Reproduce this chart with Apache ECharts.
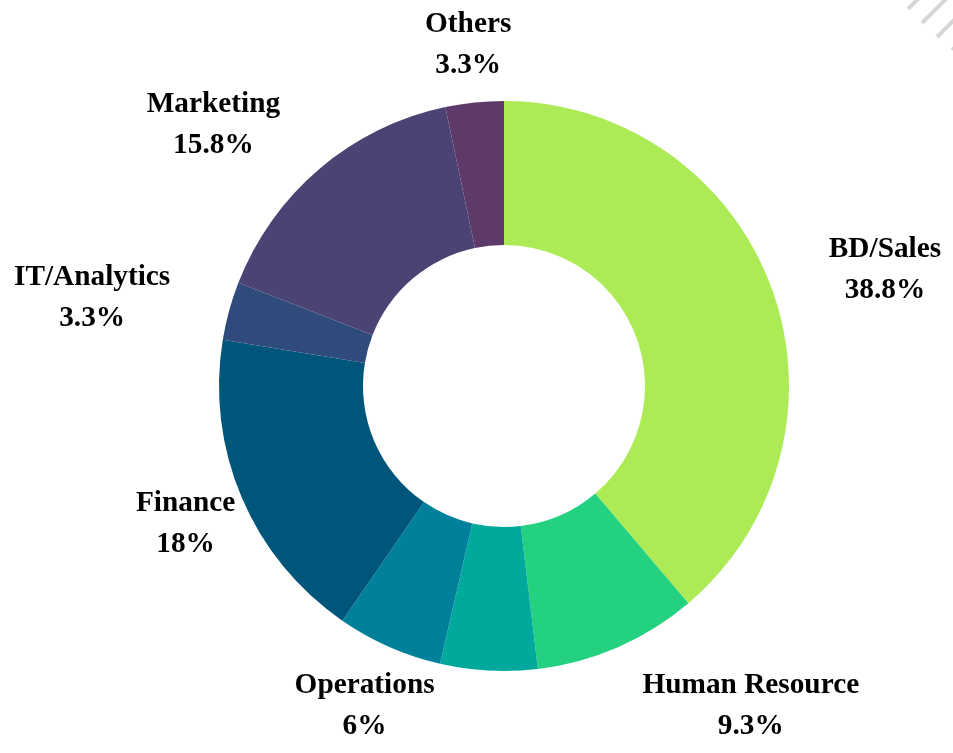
<!DOCTYPE html>
<html>
<head>
<meta charset="utf-8">
<title>Department split</title>
<script src="https://cdn.jsdelivr.net/npm/echarts@6/dist/echarts.min.js"></script>
<style>
  html, body { margin: 0; padding: 0; background: #fff; }
  #chart { width: 953px; height: 753px; }
</style>
</head>
<body>
<div id="chart"></div>
<script>
// slice data, clockwise from 12 o'clock (one small slice carries no label)
const departments = ['BD/Sales', 'Human Resource', '', 'Operations', 'Finance', 'IT/Analytics', 'Marketing', 'Others']
const shares = [38.8, 9.3, 5.5, 6, 18, 3.3, 15.8, 3.3]

const sliceColors = ['#adeb56', '#23d180', '#00a99b', '#00809a', '#00557a', '#2f4b7c', '#4b4373', '#5e3a6a']
// which side of the anchor point the label block hangs on
const labelAligns = ['left', 'left', 'center', 'center', 'center', 'right', 'right', 'center']

// labels sit on a ring this far outside the donut
const labelGap = 61

const chart = echarts.init(document.getElementById('chart'))

// decorative stripes in the top right corner
const stripes = [
  [[908, 9], [920, -3]],
  [[922, 23], [950, -5]],
  [[937, 37], [980, -6]],
  [[952, 50], [1000, 2]],
]

chart.setOption({
  animation: false,
  graphic: stripes.map(([a, b]) => ({
    type: 'line',
    silent: true,
    shape: { x1: a[0], y1: a[1], x2: b[0], y2: b[1] },
    style: { stroke: '#d6d6d6', lineWidth: 4 },
  })),
  series: [
    {
      type: 'pie',
      center: [504, 386],
      radius: [141, 285],
      startAngle: 90,
      clockwise: true,
      avoidLabelOverlap: false,
      emphasis: { disabled: true },
      itemStyle: { borderWidth: 0 },
      label: {
        position: 'outside',
        formatter: (p) => p.name + '\n' + p.value + '%',
        fontFamily: '"Times New Roman", "Liberation Serif", serif',
        fontWeight: 'bold',
        fontSize: 29.3,
        lineHeight: 41,
        color: '#000',
      },
      // kept (invisible) so the layout callback gets the radial direction
      labelLine: { show: true, length: 15, length2: 0, lineStyle: { opacity: 0 } },
      labelLayout: (params) => {
        const pts = params.labelLinePoints
        if (!pts) return {}
        const [x0, y0] = pts[0]
        const [x1, y1] = pts[1]
        const len = Math.hypot(x1 - x0, y1 - y0) || 1
        const half = params.labelRect.width / 2
        const side = labelAligns[params.dataIndex]
        const shift = side === 'left' ? half : side === 'right' ? -half : 0
        // lines stay centred on each other, the block is shifted instead
        return {
          x: x0 + (x1 - x0) / len * labelGap + shift,
          y: y0 + (y1 - y0) / len * labelGap + 3,
          align: 'center',
          verticalAlign: 'middle',
        }
      },
      data: departments.map((name, i) => ({
        name,
        value: shares[i],
        itemStyle: { color: sliceColors[i] },
        label: { show: name !== '' },
        labelLine: { show: name !== '' },
      })),
    },
  ],
})
</script>
</body>
</html>
